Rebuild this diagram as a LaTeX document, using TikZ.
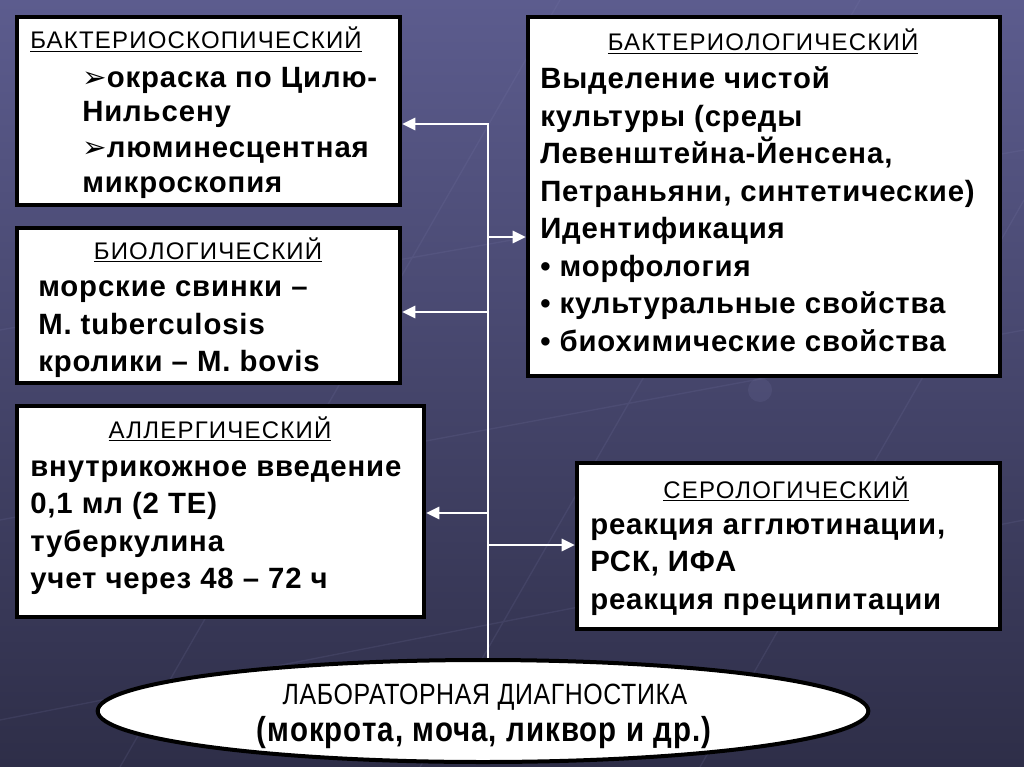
\documentclass[tikz,border=0pt]{standalone}
\usepackage{fontspec}
\setmainfont{Liberation Sans}
\newfontfamily\dejavu{DejaVu Sans}
\newfontfamily\bodyfont[LetterSpace=3]{Liberation Sans Bold}
\newfontfamily\headfont[LetterSpace=5]{Liberation Sans}
\newfontfamily\labfont[FakeStretch=0.85,LetterSpace=2]{Liberation Sans}
\newfontfamily\labfontB[FakeStretch=0.85,LetterSpace=3]{Liberation Sans Bold}
\usetikzlibrary{arrows.meta,fit,shapes.geometric}
\definecolor{bgtop}{HTML}{5C5C8E}
\definecolor{bgbot}{HTML}{2E2E48}
\definecolor{bgline}{HTML}{8080B0}
\newcommand{\arrbul}{{\dejavu\char"27A2}}
\begin{document}
\begin{tikzpicture}[x=0.75pt,y=-0.75pt,
  box/.style={draw=black,line width=3pt,fill=white,inner sep=0pt},
  hd/.style={font=\headfont\fontsize{18}{20}\selectfont,inner sep=0pt,anchor=base},
  hdl/.style={font=\headfont\fontsize{18}{20}\selectfont,inner sep=0pt,anchor=base west},
  tx/.style={font=\bodyfont\fontsize{22}{24}\selectfont,inner sep=0pt,anchor=base west},
  lab/.style={font=\labfont\fontsize{22}{24}\selectfont,inner sep=0pt,anchor=base},
  labb/.style={font=\labfontB\fontsize{26}{28}\selectfont,inner sep=0pt,anchor=base},
  trunk/.style={draw=white,line width=2.2pt},
  conn/.style={draw=white,line width=2.2pt,-{Triangle[length=10pt,width=9pt]}},
  deco/.style={draw=bgline,line width=1pt,opacity=0.15},
  dot/.style={fill=bgline,opacity=0.15}]
\useasboundingbox (0,0) rectangle (1024,767);
\shade[top color=bgtop,bottom color=bgbot] (0,0) rectangle (1024,767);
% faint background lattice
\draw[deco] (0,330) -- (1024,150) (0,520) -- (1024,330) (0,720) -- (1024,520)
            (120,767) -- (560,0) (420,767) -- (860,0) (700,767) -- (1024,200);
\foreach \p in {(140,290),(330,440),(560,260),(760,390),(250,600),(880,560),(470,700),(960,330)}
  \fill[dot] \p circle (12);

% boxes
\node[box,fit={(17,17) (400,205)}] (b1) {};
\node[box,fit={(17,228) (400,383)}] (b2) {};
\node[box,fit={(17,406) (424,617)}] (b3) {};
\node[box,fit={(528,17) (1000,376)}] (b4) {};
\node[box,fit={(577,463) (1000,629)}] (b5) {};
\node[ellipse,draw=black,line width=3pt,fill=white,inner sep=0pt,
      minimum width=578pt,minimum height=76.5pt] (lab) at (483,711) {};

% connectors
\coordinate (j1) at (488,124);
\coordinate (j2) at (488,237);
\coordinate (j3) at (488,312);
\coordinate (j4) at (488,513);
\coordinate (j5) at (488,545);
\draw[trunk] (lab.north -| j1) -- ([yshift=0.8pt]j1);
\draw[conn] (j1) -- (j1 -| b1.east);
\draw[conn] (j2) -- (j2 -| b4.west);
\draw[conn] (j3) -- (j3 -| b2.east);
\draw[conn] (j4) -- (j4 -| b3.east);
\draw[conn] (j5) -- (j5 -| b5.west);

% box 1
\node[hdl] (t11) at (30,49) {\underline{БАКТЕРИОСКОПИЧЕСКИЙ}};
\node[tx] (t12) at (82,88) {\arrbul окраска по Цилю-};
\node[tx] (t13) at (82,122) {Нильсену};
\node[tx] (t14) at (82,157) {\arrbul люминесцентная};
\node[tx] (t15) at (82,192) {микроскопия};

% box 2
\node[hd] (t21) at (208,259) {\underline{БИОЛОГИЧЕСКИЙ}};
\node[tx] (t22) at (38,296) {морские свинки –};
\node[tx] (t23) at (38,334) {M. tuberculosis};
\node[tx] (t24) at (38,371) {кролики – M. bovis};

% box 3
\node[hd] (t31) at (220,438) {\underline{АЛЛЕРГИЧЕСКИЙ}};
\node[tx] (t32) at (30,476) {внутрикожное введение};
\node[tx] (t33) at (30,513) {0,1 мл (2 ТЕ)};
\node[tx] (t34) at (30,551) {туберкулина};
\node[tx] (t35) at (30,588) {учет через 48 – 72 ч};

% box 4
\node[hd] (t41) at (763,51) {\underline{БАКТЕРИОЛОГИЧЕСКИЙ}};
\node[tx] (t42) at (540,89) {Выделение чистой};
\node[tx] (t43) at (540,126) {культуры (среды};
\node[tx] (t44) at (540,163) {Левенштейна-Йенсена,};
\node[tx] (t45) at (540,201) {Петраньяни, синтетические)};
\node[tx] (t46) at (540,238) {Идентификация};
\node[tx] (t47) at (540,276) {• морфология};
\node[tx] (t48) at (540,313) {• культуральные свойства};
\node[tx] (t49) at (540,351) {• биохимические свойства};

% box 5
\node[hd] (t51) at (786,498) {\underline{СЕРОЛОГИЧЕСКИЙ}};
\node[tx] (t52) at (590,534) {реакция агглютинации,};
\node[tx] (t53) at (590,571) {РСК, ИФА};
\node[tx] (t54) at (590,609) {реакция преципитации};

% ellipse text
\node[lab] (l1) at (485,704) {ЛАБОРАТОРНАЯ ДИАГНОСТИКА};
\node[labb] (l2) at (484,741) {(мокрота, моча, ликвор и др.)};
\end{tikzpicture}
\end{document}
